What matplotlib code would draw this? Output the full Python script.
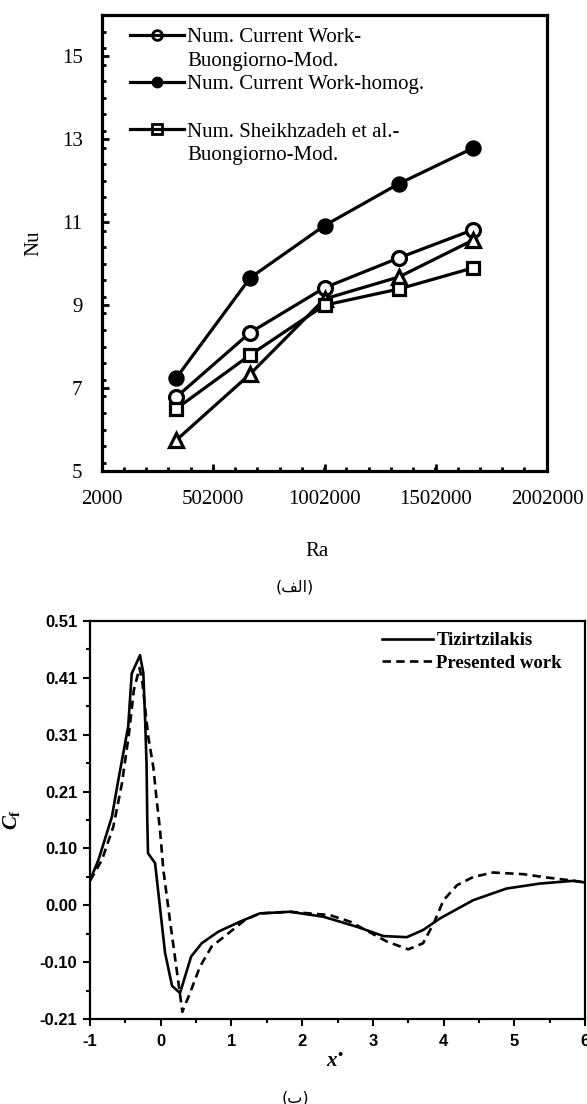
import matplotlib
matplotlib.use('Agg')
import matplotlib.pyplot as plt
from matplotlib.lines import Line2D
from matplotlib.ticker import MultipleLocator, FixedLocator
import numpy as np

# ---- data: panel (a) Nu vs Ra
ra = [335000, 668000, 1002000, 1336000, 1670000]
nu_buongiorno = [6.78, 8.34, 9.42, 10.14, 10.82]
nu_homog = [7.24, 9.66, 10.92, 11.93, 12.79]
nu_sheikhzadeh = [6.50, 7.80, 9.00, 9.39, 9.90]
nu_triangle = [5.74, 7.34, 9.15, 9.68, 10.57]
ra_ticks = [2000, 502000, 1002000, 1502000, 2002000]
nu_ticks = [5, 7, 9, 11, 13, 15]

# ---- data: panel (b) Cf vs x*
x_tiz = [-1.0, -0.88, -0.69, -0.60, -0.46, -0.41, -0.293, -0.246, -0.22, -0.20,
         -0.19, -0.18, -0.08, 0.061, 0.16, 0.273, 0.43, 0.58, 0.815, 1.12,
         1.40, 1.83, 2.30, 2.77, 3.15, 3.48, 3.71, 3.95, 4.42, 4.89,
         5.36, 5.84, 6.0]
cf_tiz = [0.041, 0.078, 0.156, 0.222, 0.319, 0.415, 0.448, 0.416, 0.33, 0.25,
          0.15, 0.09, 0.072, -0.09, -0.15, -0.163, -0.097, -0.073, -0.052, -0.034,
          -0.019, -0.016, -0.025, -0.043, -0.060, -0.062, -0.049, -0.028, 0.005, 0.026,
          0.035, 0.040, 0.037]
x_pres = [-1.0, -0.83, -0.67, -0.55, -0.45, -0.38, -0.30, -0.26, -0.21, -0.175,
          -0.105, -0.057, -0.01, 0.037, 0.13, 0.226, 0.306, 0.414, 0.556, 0.72,
          0.956, 1.19, 1.40, 1.83, 2.39, 2.68, 3.20, 3.50, 3.71, 3.86,
          4.0, 4.19, 4.42, 4.70, 5.13, 5.46, 5.84, 6.0]
cf_pres = [0.040, 0.078, 0.138, 0.215, 0.305, 0.385, 0.425, 0.40, 0.34, 0.30,
           0.246, 0.186, 0.132, 0.06, -0.031, -0.121, -0.197, -0.163, -0.115, -0.079,
           -0.055, -0.031, -0.019, -0.016, -0.022, -0.034, -0.070, -0.084, -0.073, -0.037,
           0.005, 0.032, 0.047, 0.055, 0.052, 0.046, 0.040, 0.037]
cf_ticks = np.linspace(-0.21, 0.51, 8)
cf_labels = ['-0.21', '-0.10', '0.00', '0.10', '0.21', '0.31', '0.41', '0.51']
x_ticks = [-1, 0, 1, 2, 3, 4, 5, 6]

plt.rcParams['mathtext.fontset'] = 'custom'
plt.rcParams['mathtext.it'] = 'Liberation Serif:italic:bold'
plt.rcParams['mathtext.rm'] = 'Liberation Serif:bold'
plt.rcParams['mathtext.bf'] = 'Liberation Serif:bold'

W, H = 587, 1104
fig = plt.figure(figsize=(W / 100, H / 100), dpi=100)


def axes_rect(left, top, right, bottom):
    return [left / W, 1 - bottom / H, (right - left) / W, (bottom - top) / H]


# ================= panel (a) =================
serif = 'Liberation Serif'
ax1 = fig.add_axes(axes_rect(102, 15, 547, 471))
lw = 2.3
ax1.plot(ra, nu_homog, color='k', lw=lw, marker='o', ms=10, mfc='k', mec='k', mew=1.8)
ax1.plot(ra, nu_buongiorno, color='k', lw=lw, marker='o', ms=10, mfc='white', mec='k', mew=2.3)
ax1.plot(ra, nu_triangle, color='k', lw=lw, marker='^', ms=10.5, mfc='white', mec='k', mew=2.3)
ax1.plot(ra, nu_sheikhzadeh, color='k', lw=lw, marker='s', ms=9, mfc='white', mec='k', mew=2.3)

ax1.set_xlim(2000, 2002000)
ax1.set_ylim(5, 16)
ax1.xaxis.set_major_locator(FixedLocator(ra_ticks))
ax1.set_xticklabels([str(t) for t in ra_ticks])
ax1.xaxis.set_minor_locator(MultipleLocator(100000))
ax1.yaxis.set_major_locator(FixedLocator(nu_ticks))
ax1.yaxis.set_minor_locator(MultipleLocator(0.4))
ax1.tick_params(which='both', direction='in', top=False, right=False, width=2.0)
ax1.tick_params(which='major', length=5, pad=14, labelsize=15)
ax1.tick_params(which='minor', length=3)
for lab in ax1.get_xticklabels() + ax1.get_yticklabels():
    lab.set_family(serif)
for sp in ax1.spines.values():
    sp.set_linewidth(2.3)
ax1.set_ylabel('Nu', family=serif, fontsize=15)
ax1.yaxis.set_label_coords((43 - 102) / 445, 0.5)
fig.text(317 / W, 1 - 552 / H, 'Ra', family=serif, fontsize=15, ha='center', va='center')

blank = Line2D([], [], color='none')
handles1 = [
    Line2D([], [], color='k', lw=2.3, marker='o', ms=7, mfc='none', mec='k', mew=2),
    blank,
    Line2D([], [], color='k', lw=2.3, marker='o', ms=7.5, mfc='k', mec='k'),
    blank,
    Line2D([], [], color='k', lw=2.3, marker='s', ms=7, mfc='none', mec='k', mew=2),
    blank,
]
labels1 = ['Num. Current Work-', 'Buongiorno-Mod.', 'Num. Current Work-homog.', '',
           'Num. Sheikhzadeh et al.-', 'Buongiorno-Mod.']
ax1.legend(handles1, labels1, loc='upper left', bbox_to_anchor=(0.063, 0.972),
           frameon=False, prop={'family': serif, 'size': 15}, handlelength=2.6,
           handletextpad=0.15, labelspacing=0.19, borderpad=0, borderaxespad=0,
           numpoints=1)

fig.text(295 / W, 1 - 587 / H, '(\ufed2\ufedf\ufe8d)', family='DejaVu Sans', fontsize=11.5,
         ha='center', va='center')

# ================= panel (b) =================
ax2 = fig.add_axes(axes_rect(90, 621, 585, 1019))
ax2.plot(x_tiz, cf_tiz, color='k', lw=1.9, label='Tizirtzilakis')
ax2.plot(x_pres, cf_pres, color='k', lw=1.9, linestyle=(0, (3.2, 2.0)), label='Presented work')

ax2.set_xlim(-1, 6)
ax2.set_ylim(-0.21, 0.51)
ax2.set_xticks(x_ticks)
ax2.set_xticklabels([str(t) for t in x_ticks])
ax2.xaxis.set_minor_locator(MultipleLocator(0.5))
ax2.set_yticks(cf_ticks)
ax2.set_yticklabels(cf_labels)
ax2.yaxis.set_minor_locator(FixedLocator((cf_ticks[:-1] + cf_ticks[1:]) / 2))
ax2.tick_params(which='both', direction='out', width=1.5)
ax2.tick_params(which='major', length=5, pad=4, labelsize=12)
ax2.tick_params(axis='x', which='major', pad=6)
ax2.tick_params(which='minor', length=3)
for lab in ax2.get_xticklabels() + ax2.get_yticklabels():
    lab.set_family('Liberation Sans')
    lab.set_weight('bold')
for sp in ax2.spines.values():
    sp.set_linewidth(1.6)

ax2.set_ylabel(r'$C_{\mathrm{f}}$', fontsize=15)
ax2.yaxis.set_label_coords((22 - 90) / 495, 0.5)
ax2.set_xlabel('$x^{\u2022}$', fontsize=15)
ax2.xaxis.set_label_coords((335 - 90) / 495, (1019 - 1050) / 398)

ax2.legend(loc='upper left', bbox_to_anchor=(0.59, 0.972), frameon=False,
           prop={'family': serif, 'weight': 'bold', 'size': 13.5}, handlelength=2.7,
           handletextpad=0.2, labelspacing=0.3, borderpad=0, borderaxespad=0)

fig.text(295 / W, 1 - 1098 / H, '(\u0628)', family='DejaVu Sans', fontsize=11.5,
         ha='center', va='center')

fig.savefig('out.png', dpi=100)
